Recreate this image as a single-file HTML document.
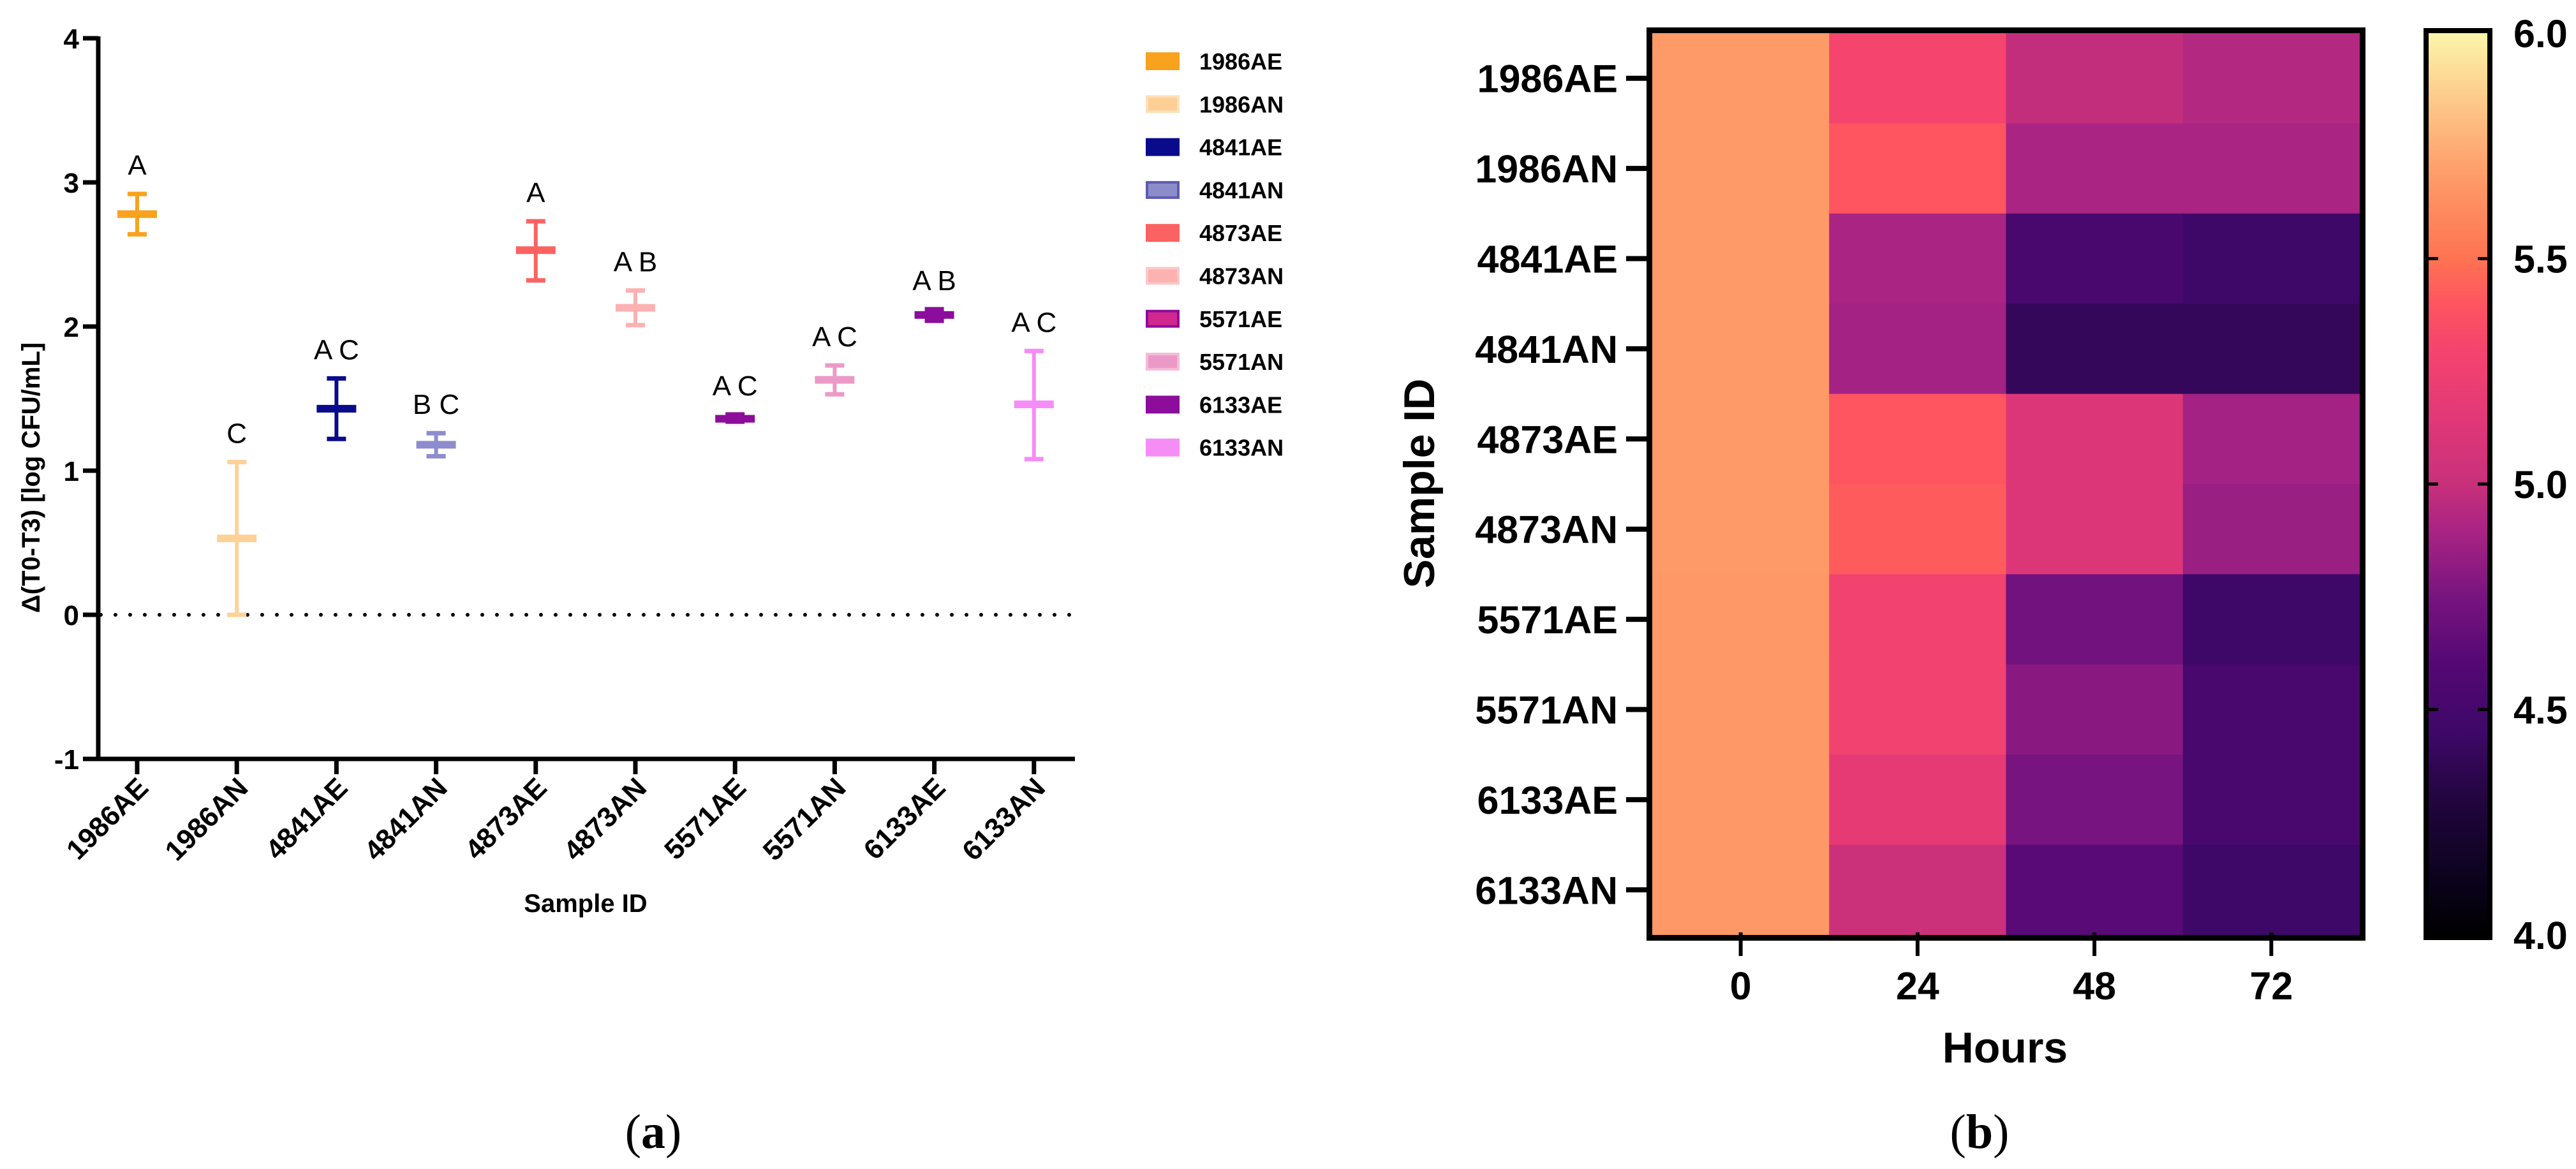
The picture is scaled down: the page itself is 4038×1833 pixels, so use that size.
<!DOCTYPE html>
<html><head><meta charset="utf-8"><style>
html,body{margin:0;padding:0;background:#fff;}
svg{display:block;font-family:"Liberation Sans",Arial,sans-serif;}
</style></head><body>
<svg id="fig" width="4038" height="1833" viewBox="0 0 4038 1833" xmlns="http://www.w3.org/2000/svg">
<g id="left"></g>
<g id="right"></g>
<text x="1024" y="1800" font-family="Liberation Serif,serif" font-size="76" text-anchor="middle">(<tspan font-weight="bold">a</tspan>)</text>
<text x="3103" y="1800" font-family="Liberation Serif,serif" font-size="76" text-anchor="middle">(<tspan font-weight="bold">b</tspan>)</text>
</svg>
<script>
// ---- chart (a) data ----
const samples = ["1986AE","1986AN","4841AE","4841AN","4873AE","4873AN","5571AE","5571AN","6133AE","6133AN"];
const means = [2.78,0.53,1.43,1.18,2.53,2.13,1.36,1.63,2.08,1.46];
const upper = [2.92,1.06,1.64,1.26,2.73,2.25,1.39,1.73,2.12,1.83];
const lower = [2.64,0.00,1.22,1.10,2.32,2.01,1.34,1.53,2.04,1.08];
const letters = ["A","C","A C","B C","A","A B","A C","A C","A B","A C"];
const yTicks = [-1,0,1,2,3,4];
const colors = ["#f9a21e","#fed199","#0a0a8c","#8c8cce","#fd6262","#fdb2b2","#8e0c9a","#eb9ac8","#8c0c9c","#f68cf6"];
const swatchFill = ["#f9a21e","#fecf94","#0a0a8c","#8c8cca","#fd6262","#fdb2b2","#d0288e","#eb9ac8","#8c0c9c","#f68cf6"];
const swatchStroke = ["#f9a21e","#fde0bb","#0a0a8c","#5c5cae","#fd6262","#fcc8c8","#8e0c9a","#f4bcd8","#8c0c9c","#f68cf6"];
// ---- chart (b) data ----
const hours = ["0","24","48","72"];
const heat = [
 [5.68,5.30,4.98,4.93],
 [5.68,5.40,4.90,4.90],
 [5.68,4.90,4.52,4.45],
 [5.68,4.88,4.40,4.40],
 [5.68,5.40,5.12,4.88],
 [5.68,5.42,5.12,4.85],
 [5.67,5.28,4.72,4.45],
 [5.67,5.27,4.80,4.52],
 [5.67,5.18,4.75,4.52],
 [5.67,5.02,4.62,4.45]
];
const cbTicks = ["4.0","4.5","5.0","5.5","6.0"];
const cbValues = [4.0,4.5,5.0,5.5,6.0];

const NS="http://www.w3.org/2000/svg";
function mk(tag,attrs,parent,txt){const e=document.createElementNS(NS,tag);for(const k in attrs)e.setAttribute(k,attrs[k]);if(txt!==undefined)e.textContent=txt;parent.appendChild(e);return e;}

// ---------- chart (a) ----------
const L=document.getElementById('left');
const axX=154, xEnd=1685, y0px=964, unit=226;
const yS=v=>y0px-v*unit;
const xS=i=>215+i*156.2;
let e;
e=mk('line',{x1:axX,y1:yS(4)-3,x2:axX,y2:yS(-1)+3,stroke:'#000','stroke-width':7},L);


e=mk('line',{x1:axX-3,y1:yS(-1),x2:xEnd,y2:yS(-1),stroke:'#000','stroke-width':7},L);


yTicks.forEach(t=>{
  const g=mk('g',{},L);
  
  
  mk('line',{x1:130,y1:yS(t),x2:axX,y2:yS(t),stroke:'#000','stroke-width':7},g);
  mk('text',{x:124,y:yS(t)+16,'text-anchor':'end','font-size':44,'font-weight':'bold'},g,String(t));
});
e=mk('line',{x1:axX+4,y1:yS(0),x2:xEnd,y2:yS(0),stroke:'#000','stroke-width':6,'stroke-dasharray':'0 23','stroke-linecap':'round'},L);


samples.forEach((s,i)=>{
  const x=xS(i);
  const g=mk('g',{},L);
  
  
  mk('line',{x1:x,y1:yS(-1),x2:x,y2:yS(-1)+24,stroke:'#000','stroke-width':7},g);
  mk('text',{x:x+20,y:1238,'text-anchor':'end','font-size':44,'font-weight':'bold',transform:`rotate(-45 ${x+20} 1238)`},g,s);
  const eb=mk('g',{},L);
  
  
  const c=colors[i];
  mk('line',{x1:x,y1:yS(upper[i]),x2:x,y2:yS(lower[i]),stroke:c,'stroke-width':6},eb);
  mk('line',{x1:x-15,y1:yS(upper[i]),x2:x+15,y2:yS(upper[i]),stroke:c,'stroke-width':7},eb);
  mk('line',{x1:x-15,y1:yS(lower[i]),x2:x+15,y2:yS(lower[i]),stroke:c,'stroke-width':7},eb);
  mk('line',{x1:x-31,y1:yS(means[i]),x2:x+31,y2:yS(means[i]),stroke:c,'stroke-width':12},eb);
  const lt=mk('text',{x:x,y:yS(upper[i])-30,'text-anchor':'middle','font-size':44},L,letters[i]);
  
  
  const lg=mk('g',{},L);
  
  
  const ly=96+i*67.3;
  mk('rect',{x:1798,y:ly-12,width:49,height:24,fill:swatchFill[i],stroke:swatchStroke[i],'stroke-width':4},lg);
  mk('text',{x:1880,y:ly+13,'font-size':36,'font-weight':'bold'},lg,s);
});
e=mk('text',{x:918,y:1430,'text-anchor':'middle','font-size':40,'font-weight':'bold'},L,'Sample ID');


e=mk('text',{x:62,y:749,'text-anchor':'middle','font-size':40,'font-weight':'bold',transform:'rotate(-90 62 749)'},L,'Δ(T0-T3) [log CFU/mL]');



// ---------- chart (b) ----------
const R=document.getElementById('right');
const stops=[[4.0,[0,0,0]],[4.15,[14,3,34]],[4.3,[34,5,62]],[4.45,[62,8,104]],[4.6,[84,8,116]],[4.75,[120,20,128]],[4.9,[170,36,131]],[5.0,[200,48,122]],[5.15,[226,56,119]],[5.3,[245,68,110]],[5.4,[254,85,96]],[5.5,[254,115,82]],[5.68,[254,154,104]],[5.85,[253,201,138]],[6.0,[252,246,170]]];
function cmap(v){
  if(v<=stops[0][0])return `rgb(${stops[0][1]})`;
  for(let k=1;k<stops.length;k++){if(v<=stops[k][0]){const a=stops[k-1],b=stops[k];const t=(v-a[0])/(b[0]-a[0]);const c=a[1].map((q,j)=>Math.round(q+(b[1][j]-q)*t));return `rgb(${c.join(',')})`;}}
  return `rgb(${stops[stops.length-1][1]})`;
}
const hL=2590,hR=3699,hT=52,hB=1466;
const cw=(hR-hL)/hours.length, rh=(hB-hT)/samples.length;
const colX=j=>hL+cw*j, rowY=i=>hT+rh*i;
heat.forEach((row,i)=>row.forEach((v,j)=>{
  const r=mk('rect',{x:colX(j),y:rowY(i),width:cw+0.5,height:rh+0.5,fill:cmap(v)},R);
  
  
}));
e=mk('rect',{x:hL-4.5,y:hT-4.5,width:hR-hL+9,height:hB-hT+9,fill:'none',stroke:'#000','stroke-width':9},R);


samples.forEach((s,i)=>{
  const y=rowY(i)+rh/2;
  const g=mk('g',{},R);
  
  
  mk('line',{x1:2549,y1:y,x2:hL-4,y2:y,stroke:'#000','stroke-width':8},g);
  mk('text',{x:2536,y:y+22,'text-anchor':'end','font-size':61,'font-weight':'bold'},g,s);
});
hours.forEach((h,j)=>{
  const x=colX(j)+cw/2;
  const g=mk('g',{},R);
  
  
  mk('line',{x1:x,y1:hB-4,x2:x,y2:1499,stroke:'#000','stroke-width':6},g);
  mk('text',{x:x,y:1567,'text-anchor':'middle','font-size':61,'font-weight':'bold'},g,h);
});
e=mk('text',{x:3143,y:1666,'text-anchor':'middle','font-size':68,'font-weight':'bold'},R,'Hours');


e=mk('text',{x:2248,y:758,'text-anchor':'middle','font-size':68,'font-weight':'bold',transform:'rotate(-90 2248 758)'},R,'Sample ID');


const cbL=3807,cbR=3899;
const cbY=v=>hB-(v-4)/2*(hB-hT);
const grad=mk('defs',{},R);
const lg=mk('linearGradient',{id:'cbg',x1:0,y1:1,x2:0,y2:0},grad);
for(let k=0;k<=40;k++){const v=4+2*k/40;mk('stop',{offset:(k/40),'stop-color':cmap(v)},lg);}
const cb=mk('g',{},R);


mk('rect',{x:cbL,y:hT,width:cbR-cbL,height:hB-hT,fill:'url(#cbg)'},cb);
mk('rect',{x:cbL-4,y:hT-4,width:cbR-cbL+8,height:hB-hT+8,fill:'none',stroke:'#000','stroke-width':8},cb);
cbValues.forEach((v,k)=>{
  const y=cbY(v);
  const g=mk('g',{},cb);
  
  
  if(k>0&&k<cbValues.length-1){
    mk('line',{x1:cbL,y1:y,x2:cbL+15,y2:y,stroke:'#000','stroke-width':5},g);
    mk('line',{x1:cbR-15,y1:y,x2:cbR,y2:y,stroke:'#000','stroke-width':5},g);
  }
  mk('text',{x:3940,y:y+22,'font-size':61,'font-weight':'bold'},g,cbTicks[k]);
});
</script>
</body></html>
